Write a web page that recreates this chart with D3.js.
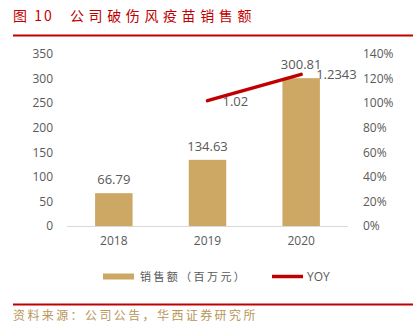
<!DOCTYPE html>
<html><head><meta charset="utf-8">
<script src="https://cdn.jsdelivr.net/npm/d3@7"></script>
<style>body{margin:0;background:#fff}svg{display:block}</style>
</head><body>
<script>
const categories = ["2018", "2019", "2020"];
const sales = [66.79, 134.63, 300.81];
const yoyCats = ["2019", "2020"];
const yoy = [1.02, 1.2343];
const yoyLabels = ["1.02", "1.2343"];
const leftTicks = [0, 50, 100, 150, 200, 250, 300, 350];
const rightTicks = [0, 0.2, 0.4, 0.6, 0.8, 1.0, 1.2, 1.4];

const W = 416, H = 334;
const svg = d3.select("body").append("svg").attr("width", W).attr("height", H);
const font = "'Open Sans','Noto Sans CJK SC',sans-serif";
const cjk = "'Noto Sans CJK SC',sans-serif";
const gray = "#595959";

// title
svg.append("text").attr("x", 13).attr("y", 21).attr("fill", "#C00000")
  .attr("font-family", cjk).attr("font-size", 14).attr("letter-spacing", 2).text("图 10");
svg.append("text").attr("x", 70).attr("y", 21).attr("fill", "#C00000")
  .attr("font-family", cjk).attr("font-size", 14).attr("letter-spacing", 4.6).text("公司破伤风疫苗销售额");
svg.append("line").attr("x1", 13).attr("x2", 413).attr("y1", 35.5).attr("y2", 35.5)
  .attr("stroke", "#C00000").attr("stroke-width", 2);

const x = d3.scaleBand().domain(categories).range([67, 348]).paddingInner(0.6).paddingOuter(0.3);
const yL = d3.scaleLinear().domain([0, 350]).range([226, 54]);
const yR = d3.scaleLinear().domain([0, 1.4]).range([226, 54]);

// left axis
const gL = svg.append("g").attr("transform", "translate(57,0)")
  .call(d3.axisLeft(yL).tickValues(leftTicks).tickSize(0).tickPadding(4));
gL.select(".domain").remove();
gL.selectAll("text").attr("fill", gray).attr("font-size", 12).attr("font-family", font);

// right axis
const gR = svg.append("g").attr("transform", "translate(359,0)")
  .call(d3.axisRight(yR).tickValues(rightTicks).tickSize(0).tickPadding(4).tickFormat(d3.format(".0%")));
gR.select(".domain").remove();
gR.selectAll("text").attr("fill", gray).attr("font-size", 12).attr("font-family", font);

// bars
svg.selectAll("rect.bar").data(sales).join("rect").attr("class", "bar")
  .attr("x", (d, i) => x(categories[i])).attr("width", x.bandwidth())
  .attr("y", d => yL(d)).attr("height", d => yL(0) - yL(d)).attr("fill", "#CDA865");

// baseline
svg.append("line").attr("x1", 67).attr("x2", 348).attr("y1", yL(0) + 0.5).attr("y2", yL(0) + 0.5)
  .attr("stroke", "#D9D9D9").attr("stroke-width", 1);

// x axis labels
const gX = svg.append("g").attr("transform", `translate(0,${yL(0)})`)
  .call(d3.axisBottom(x).tickSize(0).tickPadding(10));
gX.select(".domain").remove();
gX.selectAll("text").attr("fill", gray).attr("font-size", 12).attr("font-family", font);

// bar labels
svg.selectAll("text.bl").data(sales).join("text").attr("class", "bl")
  .attr("x", (d, i) => x(categories[i]) + x.bandwidth() / 2).attr("y", d => yL(d) - 9)
  .attr("text-anchor", "middle").attr("fill", gray).attr("font-size", 13).attr("font-family", font)
  .text(d => d.toFixed(2));

// line
const cx = c => x(c) + x.bandwidth() / 2;
svg.append("path").datum(yoy)
  .attr("d", d3.line().x((d, i) => cx(yoyCats[i])).y(d => yR(d)))
  .attr("fill", "none").attr("stroke", "#C00000").attr("stroke-width", 3.5).attr("stroke-linecap", "round");

svg.selectAll("text.ll").data(yoy).join("text").attr("class", "ll")
  .attr("x", (d, i) => cx(yoyCats[i]) + 15).attr("y", d => yR(d) + 5)
  .attr("fill", gray).attr("font-size", 13).attr("font-family", font)
  .text((d, i) => yoyLabels[i]);

// legend
svg.append("rect").attr("x", 103).attr("y", 273.5).attr("width", 31).attr("height", 6).attr("fill", "#CDA865");
svg.append("text").attr("x", 140).attr("y", 281).attr("fill", gray).attr("font-size", 11)
  .attr("letter-spacing", 2.4).attr("font-family", cjk).text("销售额（百万元）");
svg.append("line").attr("x1", 272).attr("x2", 303).attr("y1", 276.5).attr("y2", 276.5)
  .attr("stroke", "#C00000").attr("stroke-width", 3.5);
svg.append("text").attr("x", 307).attr("y", 281).attr("fill", gray).attr("font-size", 12)
  .attr("font-family", font).text("YOY");

// footer
svg.append("line").attr("x1", 13).attr("x2", 413).attr("y1", 304.5).attr("y2", 304.5)
  .attr("stroke", "#C00000").attr("stroke-width", 2);
svg.append("text").attr("x", 13).attr("y", 320).attr("fill", "#B8965A").attr("font-size", 12)
  .attr("letter-spacing", 2.4).attr("font-family", cjk).text("资料来源：公司公告，华西证券研究所");
</script>
</body></html>
